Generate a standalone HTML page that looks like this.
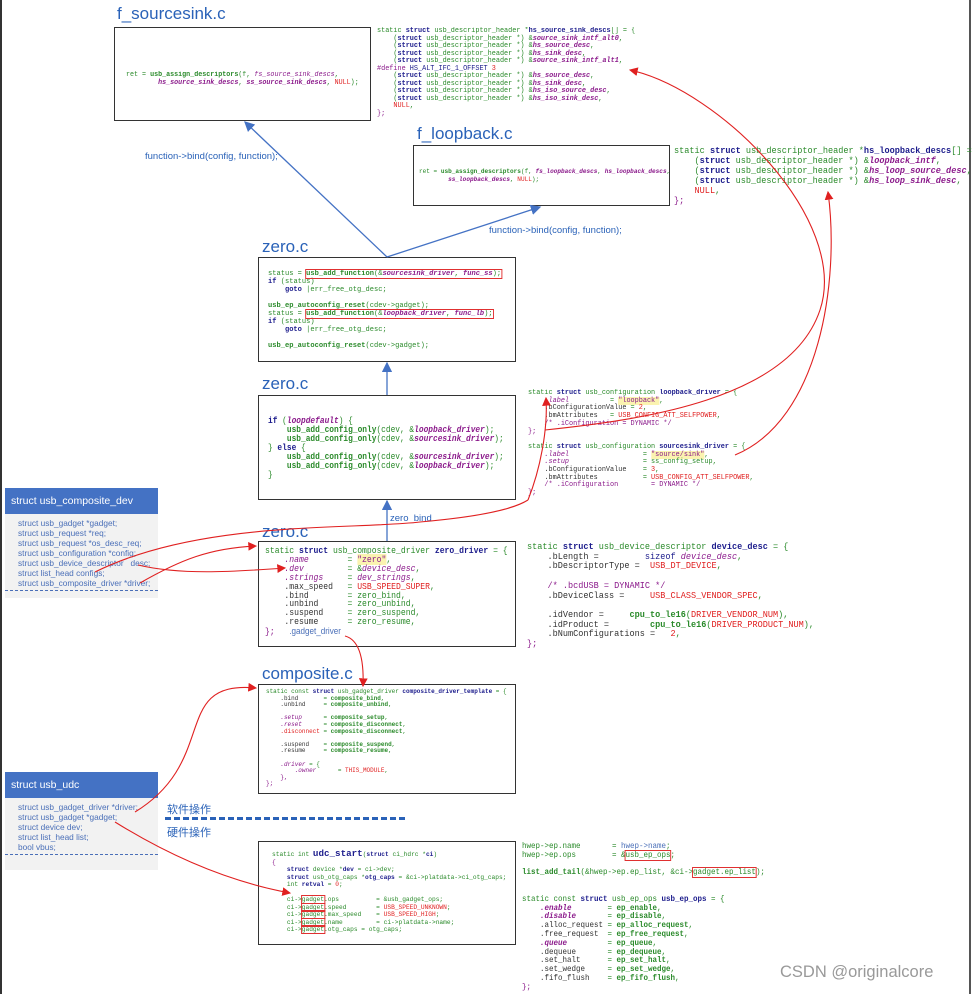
<!DOCTYPE html>
<html><head><meta charset="utf-8">
<style>
body{margin:0;width:972px;height:994px;background:#fff;position:relative;overflow:hidden;font-family:"Liberation Sans","Noto Sans CJK SC",sans-serif}
.abs{position:absolute}
.box{position:absolute;border:1.5px solid #333;background:#fff;box-sizing:border-box}
.t{position:absolute;color:#2a62b8;font-size:17px}
pre{margin:0;position:absolute;font-family:"Liberation Mono",monospace;color:#2a8a2a;white-space:pre;transform-origin:0 0}
.k{color:#1c1c8c;font-weight:bold}
.kw{color:#1c1c8c}
.p{color:#8b1a8b;font-style:italic}
.r{color:#e02020}
.b{font-weight:bold}
.y{background:#fbf3b0;color:#8b1a8b}
.hl{outline:1.3px solid #e03030}
.pun{color:#8b1a8b}
.panel{position:absolute;background:#f2f2f2;box-sizing:border-box}
.ph{background:#4472c4;color:#fff;font-size:10.5px;padding:0 6px;height:26px;line-height:26px}
.pb{color:#4a6fb8;font-size:8.3px;line-height:10px;padding:4px 0 0 13px}
.lbl{position:absolute;color:#2a62b8;font-size:9.5px}
</style></head><body>
<div class="abs" style="left:0;top:0;width:2px;height:994px;background:#333"></div>
<div class="abs" style="left:969px;top:0;width:2px;height:994px;background:#555"></div>

<div class="t" style="left:117px;top:4px">f_sourcesink.c</div>
<div class="box" style="left:114px;top:27px;width:257px;height:94px"></div>
<pre style="left:126px;top:71px;font-size:7.2px;line-height:8px;transform:scaleX(0.93)">ret = <span class="b">usb_assign_descriptors</span>(f, <span class="p">fs_source_sink_descs</span>,
        <span class="p b">hs_source_sink_descs</span>, <span class="p b">ss_source_sink_descs</span>, <span class="r">NULL</span>);</pre>

<pre style="left:377px;top:28px;font-size:7.2px;line-height:7.5px;transform:scaleX(0.95)">static <span class="k">struct</span> usb_descriptor_header *<span class="kw b">hs_source_sink_descs</span>[] = {
    (<span class="k">struct</span> usb_descriptor_header *) &amp;<span class="p b">source_sink_intf_alt0</span>,
    (<span class="k">struct</span> usb_descriptor_header *) &amp;<span class="p b">hs_source_desc</span>,
    (<span class="k">struct</span> usb_descriptor_header *) &amp;<span class="p b">hs_sink_desc</span>,
    (<span class="k">struct</span> usb_descriptor_header *) &amp;<span class="p b">source_sink_intf_alt1</span>,
<span class="pun">#define</span> <span class="kw">HS_ALT_IFC_1_OFFSET</span> <span class="r">3</span>
    (<span class="k">struct</span> usb_descriptor_header *) &amp;<span class="p b">hs_source_desc</span>,
    (<span class="k">struct</span> usb_descriptor_header *) &amp;<span class="p b">hs_sink_desc</span>,
    (<span class="k">struct</span> usb_descriptor_header *) &amp;<span class="p b">hs_iso_source_desc</span>,
    (<span class="k">struct</span> usb_descriptor_header *) &amp;<span class="p b">hs_iso_sink_desc</span>,
    <span class="r">NULL</span>,
<span class="pun">};</span></pre>

<div class="t" style="left:417px;top:124px">f_loopback.c</div>
<div class="box" style="left:413px;top:145px;width:257px;height:61px"></div>
<pre style="left:419px;top:168px;font-size:6.6px;line-height:8px;transform:scaleX(0.92)">ret = <span class="b">usb_assign_descriptors</span>(f, <span class="p b">fs_loopback_descs</span>, <span class="p b">hs_loopback_descs</span>,
        <span class="p b">ss_loopback_descs</span>, <span class="r">NULL</span>);</pre>
<pre style="left:674px;top:146px;font-size:9.3px;line-height:10px;transform:scaleX(0.92)">static <span class="k">struct</span> usb_descriptor_header *<span class="kw b">hs_loopback_descs</span>[] = {
    (<span class="k">struct</span> usb_descriptor_header *) &amp;<span class="p b">loopback_intf</span>,
    (<span class="k">struct</span> usb_descriptor_header *) &amp;<span class="p b">hs_loop_source_desc</span>,
    (<span class="k">struct</span> usb_descriptor_header *) &amp;<span class="p b">hs_loop_sink_desc</span>,
    <span class="r">NULL</span>,
<span class="pun">};</span></pre>

<div class="lbl" style="left:145px;top:151px">function-&gt;bind(config, function);</div>
<div class="lbl" style="left:489px;top:225px">function-&gt;bind(config, function);</div>

<div class="t" style="left:262px;top:237px">zero.c</div>
<div class="box" style="left:258px;top:257px;width:258px;height:105px"></div>
<pre style="left:268px;top:270px;font-size:7.6px;line-height:8px;transform:scaleX(0.93)">status = <span class="hl"><span class="b">usb_add_function</span>(&amp;<span class="p b">sourcesink_driver</span>, <span class="p b">func_ss</span>);</span>
<span class="k">if</span> (status)
    <span class="k">goto</span> |err_free_otg_desc;

<span class="b">usb_ep_autoconfig_reset</span>(cdev-&gt;gadget);
status = <span class="hl"><span class="b">usb_add_function</span>(&amp;<span class="p b">loopback_driver</span>, <span class="p b">func_lb</span>);</span>
<span class="k">if</span> (status)
    <span class="k">goto</span> |err_free_otg_desc;

<span class="b">usb_ep_autoconfig_reset</span>(cdev-&gt;gadget);</pre>

<div class="t" style="left:262px;top:374px">zero.c</div>
<div class="box" style="left:258px;top:395px;width:258px;height:105px"></div>
<pre style="left:268px;top:416px;font-size:9.2px;line-height:9px;transform:scaleX(0.855)"><span class="k">if</span> (<span class="p b">loopdefault</span>) {
    <span class="b">usb_add_config_only</span>(cdev, &amp;<span class="p b">loopback_driver</span>);
    <span class="b">usb_add_config_only</span>(cdev, &amp;<span class="p b">sourcesink_driver</span>);
} <span class="k">else</span> {
    <span class="b">usb_add_config_only</span>(cdev, &amp;<span class="p b">sourcesink_driver</span>);
    <span class="b">usb_add_config_only</span>(cdev, &amp;<span class="p b">loopback_driver</span>);
}</pre>

<pre style="left:528px;top:390px;font-size:7.6px;line-height:7.7px;transform:scaleX(0.9)">static <span class="k">struct</span> usb_configuration <span class="kw b">loopback_driver</span> = {
    <span class="p">.label</span>          = <span class="y">"loopback"</span>,
    <span style="color:#333">.bConfigurationValue</span> = <span class="r">2</span>,
    <span style="color:#333">.bmAttributes</span>   = <span class="r">USB_CONFIG_ATT_SELFPOWER</span>,
    <span class="pun">/* .iConfiguration = DYNAMIC */</span>
<span class="pun">};</span>

static <span class="k">struct</span> usb_configuration <span class="kw b">sourcesink_driver</span> = {
    <span class="p">.label</span>                  = <span class="y">"source/sink"</span>,
    <span class="p">.setup</span>                  = ss_config_setup,
    <span style="color:#333">.bConfigurationValue</span>    = <span class="r">3</span>,
    <span style="color:#333">.bmAttributes</span>           = <span class="r">USB_CONFIG_ATT_SELFPOWER</span>,
    <span class="pun">/* .iConfiguration        = DYNAMIC */</span>
<span class="pun">};</span></pre>

<div class="lbl" style="left:390px;top:513px">zero_bind</div>
<div class="t" style="left:262px;top:522px">zero.c</div>
<div class="box" style="left:258px;top:541px;width:258px;height:106px"></div>
<pre style="left:265px;top:547px;font-size:9.2px;line-height:8.9px;transform:scaleX(0.88)">static <span class="k">struct</span> usb_composite_driver <span class="kw b">zero_driver</span> = {
    <span class="p">.name</span>        = <span class="y">"zero"</span>,
    <span class="p">.dev</span>         = &amp;<span class="p">device_desc</span>,
    <span class="p">.strings</span>     = <span class="p">dev_strings</span>,
    <span style="color:#333">.max_speed</span>   = <span class="r">USB_SPEED_SUPER</span>,
    <span style="color:#333">.bind</span>        = zero_bind,
    <span style="color:#333">.unbind</span>      = zero_unbind,
    <span style="color:#333">.suspend</span>     = zero_suspend,
    <span style="color:#333">.resume</span>      = zero_resume,
<span class="pun">};</span>   <span style="color:#4a6fb8;font-family:'Liberation Sans',sans-serif">.gadget_driver</span></pre>

<pre style="left:527px;top:542px;font-size:9.6px;line-height:9.7px;transform:scaleX(0.89)">static <span class="k">struct</span> usb_device_descriptor <span class="kw b">device_desc</span> = {
    <span style="color:#333">.bLength =</span>         <span class="kw">sizeof</span> <span class="p">device_desc</span>,
    <span style="color:#333">.bDescriptorType =</span>  <span class="r">USB_DT_DEVICE</span>,

    <span class="pun">/* .bcdUSB = DYNAMIC */</span>
    <span style="color:#333">.bDeviceClass =</span>     <span class="r">USB_CLASS_VENDOR_SPEC</span>,

    <span style="color:#333">.idVendor =</span>     <span class="b">cpu_to_le16</span>(<span class="r">DRIVER_VENDOR_NUM</span>),
    <span style="color:#333">.idProduct =</span>        <span class="b">cpu_to_le16</span>(<span class="r">DRIVER_PRODUCT_NUM</span>),
    <span style="color:#333">.bNumConfigurations =</span>   <span class="r">2</span>,
<span class="pun">};</span></pre>

<div class="t" style="left:262px;top:664px">composite.c</div>
<div class="box" style="left:258px;top:684px;width:258px;height:110px"></div>
<pre style="left:266px;top:689px;font-size:6.3px;line-height:6.6px;transform:scaleX(0.95)">static const <span class="k">struct</span> usb_gadget_driver <span class="kw b">composite_driver_template</span> = {
    <span style="color:#333">.bind</span>       = <span class="b">composite_bind</span>,
    <span style="color:#333">.unbind</span>     = <span class="b">composite_unbind</span>,

    <span class="p">.setup</span>      = <span class="b">composite_setup</span>,
    <span class="p">.reset</span>      = <span class="b">composite_disconnect</span>,
    <span class="r">.disconnect</span> = <span class="b">composite_disconnect</span>,

    <span style="color:#333">.suspend</span>    = <span class="b">composite_suspend</span>,
    <span style="color:#333">.resume</span>     = <span class="b">composite_resume</span>,

    <span class="p">.driver</span> = {
        <span class="p">.owner</span>      = <span class="r">THIS_MODULE</span>,
    <span class="pun">},</span>
<span class="pun">};</span></pre>

<div class="abs" style="left:167px;top:801px;color:#2a62b8;font-size:11px">软件操作</div>
<div class="abs" style="left:167px;top:824px;color:#2a62b8;font-size:11px">硬件操作</div>
<div class="abs" style="left:165px;top:817px;width:240px;border-top:3px dashed #2a62b8"></div>

<div class="box" style="left:258px;top:841px;width:258px;height:104px"></div>
<pre style="left:272px;top:850px;font-size:6.4px;line-height:7.5px;transform:scaleX(0.97)">static int <span class="kw b" style="font-size:9.5px">udc_start</span>(<span class="k">struct</span> ci_hdrc *<span class="kw b">ci</span>)
<span class="pun">{</span>
    <span class="k">struct</span> device *<span class="kw b">dev</span> = ci-&gt;dev;
    <span class="k">struct</span> usb_otg_caps *<span class="kw b">otg_caps</span> = &amp;ci-&gt;platdata-&gt;ci_otg_caps;
    int <span class="kw b">retval</span> = <span class="r">0</span>;

    ci-&gt;<span class="hl">gadget</span>.ops          = &amp;usb_gadget_ops;
    ci-&gt;<span class="hl">gadget</span>.speed        = <span class="r">USB_SPEED_UNKNOWN</span>;
    ci-&gt;<span class="hl">gadget</span>.max_speed    = <span class="r">USB_SPEED_HIGH</span>;
    ci-&gt;<span class="hl">gadget</span>.name         = ci-&gt;platdata-&gt;name;
    ci-&gt;<span class="hl">gadget</span>.otg_caps = otg_caps;</pre>

<pre style="left:522px;top:843px;font-size:7.9px;line-height:8.8px;transform:scaleX(0.95)">hwep-&gt;ep.name       = <span style="color:#4a6fb8">hwep-&gt;name</span>;
hwep-&gt;ep.ops        = &amp;<span class="hl">usb_ep_ops</span>;

<span class="b">list_add_tail</span>(&amp;hwep-&gt;ep.ep_list, &amp;ci-&gt;<span class="hl">gadget.ep_list</span>);


static const <span class="k">struct</span> usb_ep_ops <span class="kw b">usb_ep_ops</span> = {
    <span class="p b">.enable</span>        = <span class="b">ep_enable</span>,
    <span class="p b">.disable</span>       = <span class="b">ep_disable</span>,
    <span style="color:#333">.alloc_request</span> = <span class="b">ep_alloc_request</span>,
    <span style="color:#333">.free_request</span>  = <span class="b">ep_free_request</span>,
    <span class="p b">.queue</span>         = <span class="b">ep_queue</span>,
    <span style="color:#333">.dequeue</span>       = <span class="b">ep_dequeue</span>,
    <span style="color:#333">.set_halt</span>      = <span class="b">ep_set_halt</span>,
    <span style="color:#333">.set_wedge</span>     = <span class="b">ep_set_wedge</span>,
    <span style="color:#333">.fifo_flush</span>    = <span class="b">ep_fifo_flush</span>,
<span class="pun">};</span></pre>
<div class="abs" style="left:780px;top:963px;color:#999;font-size:16.5px">CSDN @originalcore</div>

<div class="panel" style="left:5px;top:488px;width:153px;height:110px">
<div class="ph">struct usb_composite_dev</div>
<div class="pb">struct usb_gadget *gadget;<br>struct usb_request *req;<br>struct usb_request *os_desc_req;<br>struct usb_configuration *config;<br>struct usb_device_descriptor &nbsp;&nbsp;desc;<br>struct list_head configs;<br>struct usb_composite_driver *driver;</div>
<div style="border-top:1px dashed #4a6fb8;margin-top:2px"></div>
</div>
<div class="panel" style="left:5px;top:772px;width:153px;height:98px">
<div class="ph">struct usb_udc</div>
<div class="pb">struct usb_gadget_driver *driver;<br>struct usb_gadget *gadget;<br>struct device dev;<br>struct list_head list;<br>bool vbus;</div>
<div style="border-top:1px dashed #4a6fb8;margin-top:2px"></div>
</div>

<svg class="abs" style="left:0;top:0" width="972" height="994">
<defs>
<marker id="ab" markerWidth="8" markerHeight="8" refX="7" refY="4" orient="auto"><path d="M0,0L8,4L0,8z" fill="#4472c4"/></marker>
<marker id="ar" markerWidth="8" markerHeight="8" refX="7" refY="4" orient="auto"><path d="M0,0L8,4L0,8z" fill="#e02020"/></marker>
</defs>
<g stroke="#4472c4" stroke-width="1.3" fill="none">
<line x1="387" y1="257" x2="245" y2="122" marker-end="url(#ab)"/>
<line x1="387" y1="257" x2="540" y2="207" marker-end="url(#ab)"/>
<line x1="387" y1="395" x2="387" y2="363" marker-end="url(#ab)"/>
<line x1="387" y1="541" x2="387" y2="501" marker-end="url(#ab)"/>
</g>
<g stroke="#e02020" stroke-width="1.1" fill="none">
<path d="M545,430 C640,420 790,400 820,310 C850,220 720,90 630,70" marker-end="url(#ar)"/>
<path d="M735,455 C820,420 840,280 828,192" marker-end="url(#ar)"/>
<path d="M528,500 C540,470 548,430 546,398" marker-end="url(#ar)"/>
<path d="M95,572 C200,520 350,530 420,522 C500,515 520,505 528,500"/>
<path d="M138,565 C180,575 230,572 285,568" marker-end="url(#ar)"/>
<path d="M140,583 C180,560 210,548 256,546" marker-end="url(#ar)"/>
<path d="M345,636 C360,640 364,660 363,686" marker-end="url(#ar)"/>
<path d="M135,812 C220,760 170,680 256,688" marker-end="url(#ar)"/>
<path d="M115,822 C160,850 220,880 290,893" marker-end="url(#ar)"/>
</g>
</svg>
</body></html>
